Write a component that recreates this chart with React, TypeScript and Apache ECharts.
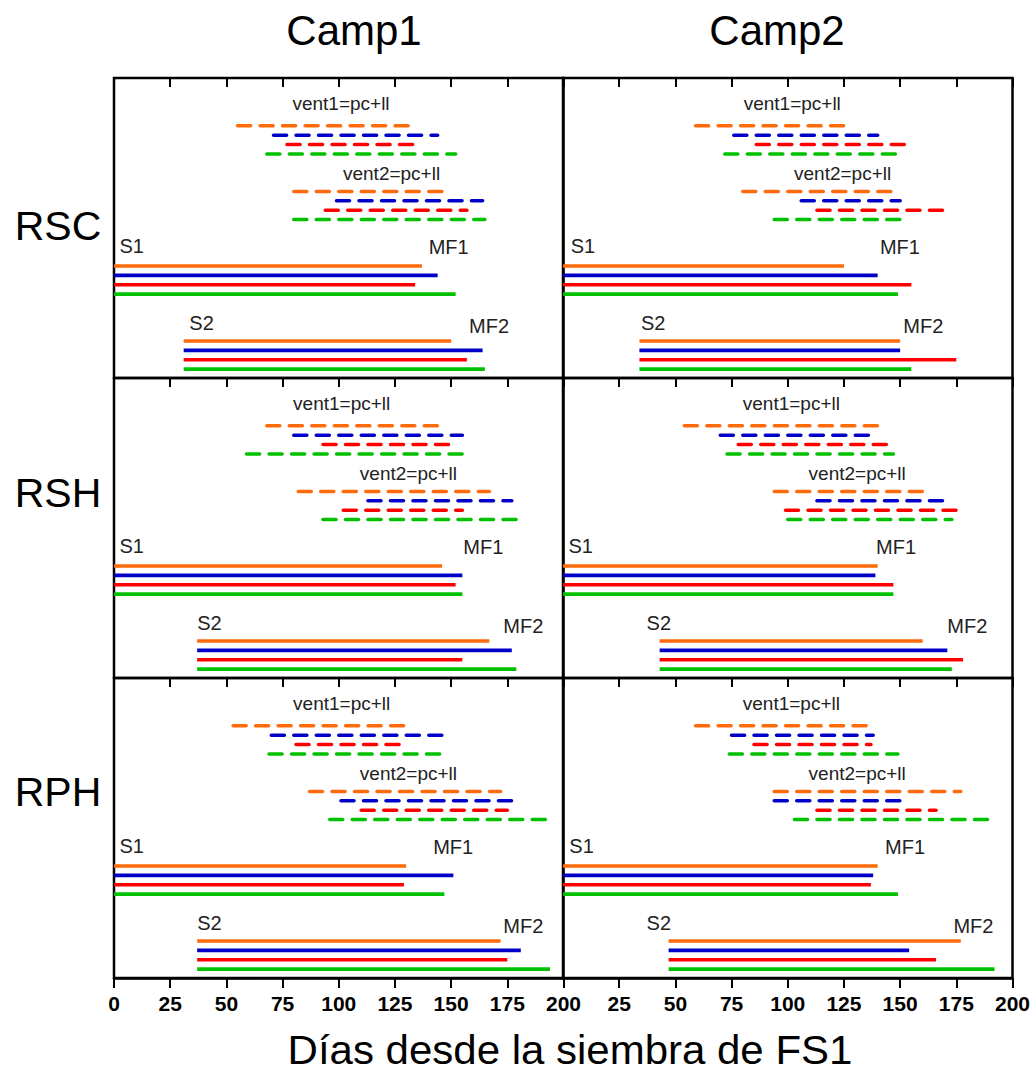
import React, { useEffect, useRef } from "react";
import * as echarts from "echarts";

const camps = ["Camp1", "Camp2"];
const regions = ["RSC", "RSH", "RPH"];
const tickStep = 25;
const axisMax = 200;
const labelTexts = ["vent1=pc+ll", "vent2=pc+ll", "S1", "MF1", "S2", "MF2"];
const lineColors = ["#FF6A0A", "#0000C8", "#FF0000", "#00C000"];

// [start, end] in days, one pair per colour (orange, blue, red, green)
const rscCamp1Vent1 = [[55, 133], [71, 144], [77, 134], [68, 152]];
const rscCamp1Vent2 = [[80, 147], [99, 164], [94, 157], [80, 165]];
const rscCamp1S1 = [[0, 137], [0, 144], [0, 134], [0, 152]];
const rscCamp1S2 = [[31, 150], [31, 164], [31, 157], [31, 165]];
const rscCamp1Labels = [101, 123.5, 2.4, 140, 33.5, 158];

const rscCamp2Vent1 = [[59, 125], [76, 140], [86, 154], [72, 149]];
const rscCamp2Vent2 = [[80, 148], [106, 150], [113, 171], [94, 152]];
const rscCamp2S1 = [[0, 125], [0, 140], [0, 155], [0, 149]];
const rscCamp2S2 = [[34, 150], [34, 150], [34, 175], [34, 155]];
const rscCamp2Labels = [102, 124.4, 3.4, 141, 34.7, 151.4];

const rshCamp1Vent1 = [[68, 146], [80, 155], [93, 151], [59, 155]];
const rshCamp1Vent2 = [[82, 167], [113, 177], [102, 155], [93, 179]];
const rshCamp1S1 = [[0, 146], [0, 155], [0, 152], [0, 155]];
const rshCamp1S2 = [[37, 167], [37, 177], [37, 155], [37, 179]];
const rshCamp1Labels = [101.3, 131, 2.4, 155.4, 37, 173.2];

const rshCamp2Vent1 = [[54, 140], [70, 137], [78, 146], [73, 147]];
const rshCamp2Vent2 = [[94, 160], [113, 170], [99, 176], [100, 173]];
const rshCamp2S1 = [[0, 140], [0, 139], [0, 147], [0, 147]];
const rshCamp2S2 = [[43, 160], [43, 171], [43, 178], [43, 173]];
const rshCamp2Labels = [101.6, 130.9, 2.4, 139.3, 37.2, 171];

const rphCamp1Vent1 = [[53, 130], [70, 148], [81, 128], [69, 147]];
const rphCamp1Vent2 = [[87, 172], [101, 179], [110, 175], [96, 194]];
const rphCamp1S1 = [[0, 130], [0, 151], [0, 129], [0, 147]];
const rphCamp1S2 = [[37, 172], [37, 181], [37, 175], [37, 194]];
const rphCamp1Labels = [101.3, 131, 2.4, 142, 37, 173.2];

const rphCamp2Vent1 = [[59, 136], [75, 138], [85, 137], [74, 149]];
const rphCamp2Vent2 = [[94, 177], [94, 151], [113, 166], [103, 190]];
const rphCamp2S1 = [[0, 140], [0, 138], [0, 137], [0, 149]];
const rphCamp2S2 = [[47, 177], [47, 154], [47, 166], [47, 192]];
const rphCamp2Labels = [101.6, 130.9, 2.8, 143.3, 37.2, 173.7];

const panels = [
  [rscCamp1Vent1, rscCamp1Vent2, rscCamp1S1, rscCamp1S2, rscCamp1Labels],
  [rscCamp2Vent1, rscCamp2Vent2, rscCamp2S1, rscCamp2S2, rscCamp2Labels],
  [rshCamp1Vent1, rshCamp1Vent2, rshCamp1S1, rshCamp1S2, rshCamp1Labels],
  [rshCamp2Vent1, rshCamp2Vent2, rshCamp2S1, rshCamp2S2, rshCamp2Labels],
  [rphCamp1Vent1, rphCamp1Vent2, rphCamp1S1, rphCamp1S2, rphCamp1Labels],
  [rphCamp2Vent1, rphCamp2Vent2, rphCamp2S1, rphCamp2S2, rphCamp2Labels],
] as any[];

const FONT = "'Liberation Sans', Arial, sans-serif";

// layout (row positions in the 0..32 inverted y scale of each panel)
const groupTop = [5.1, 12.1, 20.05, 28.05];
const labelRows = [2.67, 10.17, 17.97, 18.03, 26.17, 26.45];
const labelAlign = ["center", "center", "left", "left", "left", "left"];

function buildItems(p: any[]) {
  const items: any[] = [];
  for (let g = 0; g < 4; g++) {
    const arr = p[g];
    for (let i = 0; i < 4; i++) {
      items.push({
        kind: "seg",
        x1: arr[i][0],
        x2: arr[i][1],
        y: groupTop[g] + i,
        color: lineColors[i],
        dashed: g < 2,
      });
    }
  }
  const labs = p[4];
  for (let k = 0; k < labelTexts.length; k++) {
    items.push({
      kind: "text",
      x1: labs[k],
      x2: labs[k],
      y: labelRows[k],
      text: labelTexts[k],
      align: labelAlign[k],
      size: k < 2 ? 19 : 20,
    });
  }
  return items;
}

export default function App() {
  const ref = useRef<HTMLDivElement>(null);
  useEffect(() => {
    if (!ref.current) return;
    const chart = echarts.init(ref.current, null, { renderer: "svg" });
    const lefts = [114, 563];
    const tops = [78, 378, 678];
    const grids: any[] = [];
    const xAxes: any[] = [];
    const yAxes: any[] = [];
    const series: any[] = [];
    for (let i = 0; i < 6; i++) {
      const r = Math.floor(i / 2);
      const c = i % 2;
      grids.push({
        left: lefts[c],
        top: tops[r],
        width: 449.5,
        height: 300,
        show: true,
        borderColor: "#000",
        borderWidth: 2.5,
        backgroundColor: "transparent",
      });
      xAxes.push({
        gridIndex: i,
        type: "value",
        position: "top",
        min: 0,
        max: axisMax,
        interval: tickStep,
        axisLine: { show: false },
        axisTick: { show: true, inside: true, length: 9, lineStyle: { color: "#000", width: 2 } },
        axisLabel: { show: false },
        splitLine: { show: false },
      });
      yAxes.push({
        gridIndex: i,
        type: "value",
        min: 0,
        max: 32,
        inverse: true,
        show: false,
      });
      const items = buildItems(panels[i]);
      series.push({
        type: "custom",
        xAxisIndex: i,
        yAxisIndex: i,
        coordinateSystem: "cartesian2d",
        data: items.map((it) => [it.x1, it.x2, it.y]),
        encode: { x: [0, 1], y: 2 },
        silent: true,
        renderItem: (params: any, api: any) => {
          const it = items[params.dataIndex];
          if (it.kind === "seg") {
            const p1 = api.coord([it.x1, it.y]);
            const p2 = api.coord([it.x2, it.y]);
            return {
              type: "line",
              shape: { x1: p1[0], y1: p1[1], x2: p2[0], y2: p2[1] },
              style: {
                stroke: it.color,
                lineWidth: 3.6,
                lineDash: it.dashed ? [13, 9.5] : null,
                lineCap: it.dashed ? "round" : "butt",
              },
            };
          }
          const p = api.coord([it.x1, it.y]);
          return {
            type: "text",
            x: p[0],
            y: p[1],
            style: {
              text: it.text,
              fill: "#222",
              fontSize: it.size,
              fontFamily: FONT,
              align: it.align,
              verticalAlign: "middle",
            },
          };
        },
      });
    }
    // bottom axes with labels
    [4, 5].forEach((gi) => {
      xAxes.push({
        gridIndex: gi,
        type: "value",
        position: "bottom",
        min: 0,
        max: axisMax,
        interval: tickStep,
        axisLine: { show: true, lineStyle: { color: "#000", width: 2.5 } },
        axisTick: { show: true, inside: false, length: 10, lineStyle: { color: "#000", width: 2 } },
        axisLabel: {
          show: true,
          color: "#000",
          fontSize: 21,
          fontWeight: "bold",
          fontFamily: FONT,
          margin: 15,
          showMinLabel: gi === 4,
          showMaxLabel: true,
        },
        splitLine: { show: false },
      });
    });

    const graphic: any[] = [];
    const campX = [354, 777];
    camps.forEach((t, k) => {
      graphic.push({
        type: "text",
        x: campX[k],
        y: 30,
        style: { text: t, fontSize: 42, fontFamily: FONT, fill: "#000", align: "center", verticalAlign: "middle" },
      });
    });
    const regionY = [226, 493, 792];
    regions.forEach((t, k) => {
      graphic.push({
        type: "text",
        x: 58,
        y: regionY[k],
        style: { text: t, fontSize: 41, fontFamily: FONT, fill: "#000", align: "center", verticalAlign: "middle" },
      });
    });
    graphic.push({
      type: "text",
      x: 570,
      y: 1050,
      scaleX: 1.05,
      style: {
        text: "Días desde la siembra de FS1",
        fontSize: 40,
        fontFamily: FONT,
        fill: "#000",
        align: "center",
        verticalAlign: "middle",
      },
    });

    chart.setOption({
      animation: false,
      backgroundColor: "#fff",
      grid: grids,
      xAxis: xAxes,
      yAxis: yAxes,
      series,
      graphic,
    });
    return () => chart.dispose();
  }, []);
  return (
    <div
      ref={ref}
      style={{ position: "absolute", left: 0, top: 0, width: 1035, height: 1072 }}
    />
  );
}
